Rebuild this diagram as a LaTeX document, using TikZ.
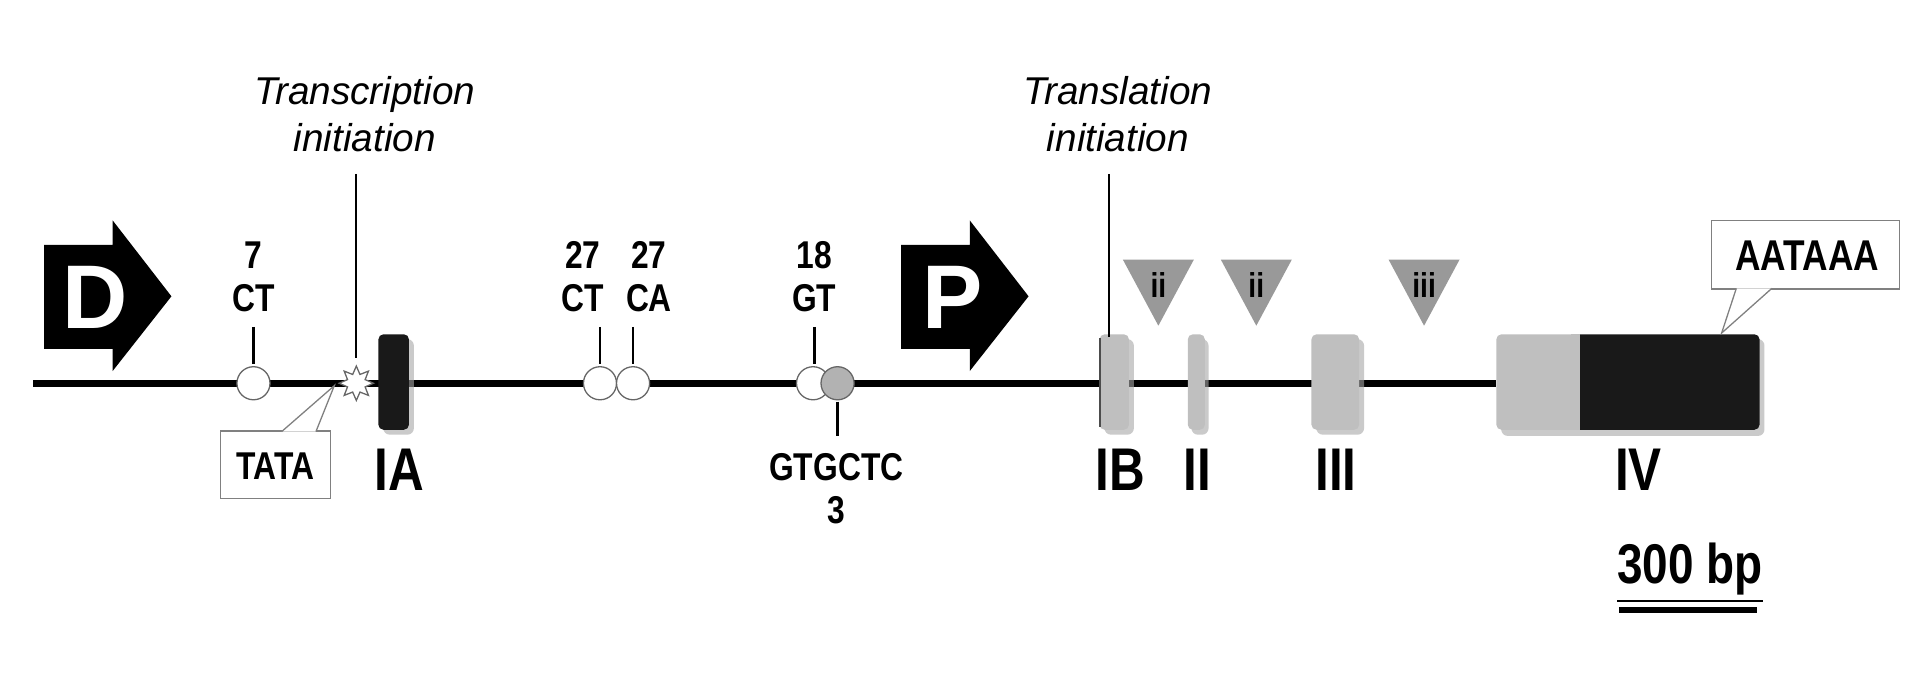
\documentclass[tikz,border=0pt]{standalone}
\usepackage{fontspec}
\setmainfont{Liberation Sans}
\newfontfamily\cond[FakeStretch=0.82]{Liberation Sans}
\usetikzlibrary{shapes.geometric,shapes.symbols}
\begin{document}
\begin{tikzpicture}[x=0.01cm,y=-0.01cm,
  lab/.style={font=\cond\bfseries\fontsize{9}{10}\selectfont,inner sep=0,align=center},
  big/.style={font=\cond\bfseries\fontsize{14}{15}\selectfont,inner sep=0},
  ital/.style={font=\itshape\fontsize{9}{11}\selectfont,inner sep=0,align=center},
  tick/.style={line width=0.6pt},
  site/.style={circle,draw=black!60,line width=0.3pt,fill=white,minimum width=0.24cm,minimum height=0.27cm,inner sep=0},
  exong/.style={fill=black!25,rounded corners=1.2pt},
  shadow/.style={fill=black!35,rounded corners=1.5pt,opacity=0.6},
  tri/.style={fill=black!40},
  call/.style={draw=black!50,line width=0.3pt,fill=white}]
\useasboundingbox (0,0) rectangle (1568,549);
% main line
\coordinate (L0) at (27,313); \coordinate (L1) at (1222,313);
\draw[line width=1.6pt] (L0) -- (L1);
% arrows
\fill (36,200) -- (92,200) -- (92,180) -- (140,242) -- (92,303) -- (92,285) -- (36,285) -- cycle;
\node[font=\bfseries\fontsize{21}{21}\selectfont,text=white] (D) at (78,243) {D};
\fill (736,200) -- (792,200) -- (792,180) -- (840,242) -- (792,303) -- (792,285) -- (736,285) -- cycle;
\node[font=\bfseries\fontsize{21}{21}\selectfont,text=white] (P) at (778,243) {P};
% transcription initiation
\node[ital] (ti) at (298,93) {Transcription\\initiation};
\coordinate (tiT) at (291,142); \coordinate (tiB) at (291,292);
\draw[line width=0.5pt] (tiT) -- (tiB);
\node[star,star points=8,star point ratio=1.8,draw=black!60,fill=white,line width=0.3pt,minimum size=0.28cm,inner sep=0] (st) at (291,313) {};
% IA exon
\fill[shadow] (313,277) rectangle (338,355);
\fill[black!90,rounded corners=1.2pt] (309,273) rectangle (334,351);
\node[big] (IA) at (326,384) {IA};
% TATA
\draw[call] (180,352) rectangle (270,407);
\coordinate (tataP) at (273,315);
\draw[call] (230,352.5) -- (tataP) -- (258,352.5);
\node[lab] (tata) at (225,381) {TATA};
% microsatellites
\node[lab] (m1) at (207,226) {7\\CT};
\draw[tick] (207,267) -- (207,297);
\node[site] (c1) at (207,313) {};
\node[lab] (m2) at (476,226) {27\\CT};
\node[lab] (m3) at (530,226) {27\\CA};
\draw[tick] (490,267) -- (490,297);
\draw[tick] (517,267) -- (517,297);
\node[site] (c2) at (490,313) {};
\node[site] (c3) at (517,313) {};
\node[lab] (m4) at (665,226) {18\\GT};
\draw[tick] (665,267) -- (665,297);
\node[site] (c4) at (664,313) {};
\node[site,fill=black!30] (c5) at (684,313) {};
\draw[tick] (684,328) -- (684,356);
\node[lab] (m5) at (683,399) {GTGCTC\\3};
% translation initiation
\node[ital] (tl) at (913,93) {Translation\\initiation};
% exons
\fill[shadow] (902,277) rectangle (926,355);
\fill[exong] (898,273) rectangle (922,351);
\draw[line width=0.6pt,black!70] (898.5,276) -- (898.5,349);
\coordinate (tlT) at (906,142); \coordinate (tlB) at (906,275);
\draw[line width=0.5pt] (tlT) -- (tlB);
\fill[shadow] (973,277) rectangle (987,355);
\fill[exong] (970,273) rectangle (984,351);
\fill[shadow] (1075,277) rectangle (1114,355);
\fill[exong] (1071,273) rectangle (1110,351);
\fill[shadow] (1226,277) rectangle (1441,356);
\fill[exong] (1222,273) rectangle (1290,351);
\fill[black!90,rounded corners=1.2pt] (1283,273) rectangle (1437,351);
\fill[black!25] (1283,273) rectangle (1290,351);
\node[big] (IB) at (915,384) {IB};
\node[big] (II) at (978,384) {II};
\node[big] (III) at (1091,384) {III};
\node[big] (IV) at (1338,384) {IV};
% triangles
\foreach \x/\t/\n in {946/ii/t1,1026/ii/t2,1163/iii/t3}{
  \fill[tri] (\x-29,212) -- (\x+29,212) -- (\x,266) -- cycle;
  \node[lab,font=\cond\bfseries\fontsize{8}{9}\selectfont] (\n) at (\x,233) {\t};
}
% AATAAA
\draw[call] (1398,180) rectangle (1551,236);
\coordinate (aaP) at (1406,272);
\draw[call] (1418,235.5) -- (aaP) -- (1447,235.5);
\node[lab,font=\cond\bfseries\fontsize{10}{11}\selectfont] (aa) at (1476,209) {AATAAA};
% scale bar
\node[lab,font=\cond\bfseries\fontsize{13}{14}\selectfont] (sb) at (1380,468) {\underline{300 bp}};
\coordinate (sb0) at (1322,498); \coordinate (sb1) at (1435,498);
\draw[line width=1.5pt] (sb0) -- (sb1);
\end{tikzpicture}
\end{document}
